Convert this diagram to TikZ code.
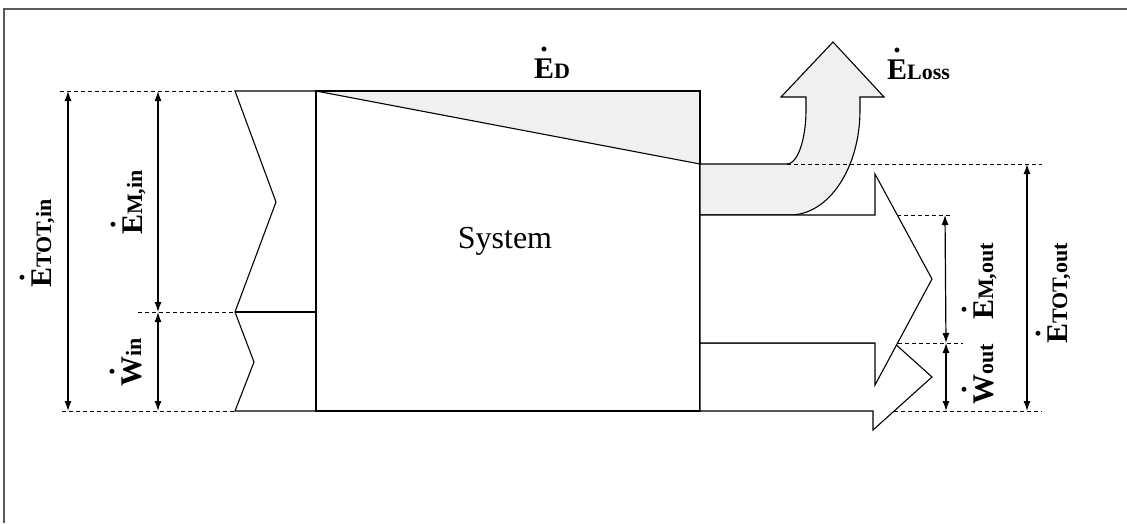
\documentclass[tikz,border=0pt]{standalone}
\usepackage{fontspec}
\setmainfont{Liberation Serif}
\usetikzlibrary{arrows.meta}
\definecolor{lossgray}{RGB}{240,240,240}
\definecolor{framegray}{RGB}{90,90,90}
\newcommand{\Dt}[1]{\ooalign{#1\cr\hidewidth\raisebox{27pt}{.}\hidewidth\cr}}
\newcommand{\Qty}[2]{{\bfseries\fontsize{30}{35}\selectfont\Dt{#1}\fontsize{22}{26}\selectfont #2}}
\begin{document}
\begin{tikzpicture}[x=1pt,y=-1pt,
  outline/.style={draw=black, line width=1.1pt, line join=miter},
  guide/.style={draw=black, line width=0.9pt, dash pattern=on 4pt off 3pt},
  dim/.style={line width=1.2pt, {Latex[length=10pt,width=7pt]}-{Latex[length=10pt,width=7pt]}},
  qty/.style={inner sep=0pt},
  vqty/.style={qty, rotate=90, anchor=base west}]
\useasboundingbox (0,0) rectangle (1127,523);
\draw[framegray, line width=1.5pt] (1127,9) -- (4,9) -- (4,523);

% key points
\coordinate (A) at (316,91);
\coordinate (B) at (700,91);
\coordinate (C) at (700,411);
\coordinate (D) at (316,411);
\coordinate (Mi) at (316,312);
\coordinate (Ed) at (700,164);
\coordinate (Ms) at (700,215);
\coordinate (Ws) at (700,343);

% system box and destroyed exergy wedge
\filldraw[outline, fill=lossgray] (A) -- (B) -- (Ed) -- cycle;
\draw[outline] (A) rectangle (C);
\node (sys) at (505,241) {\fontsize{32}{38}\selectfont System};

% input streams
\draw[outline] (D) -- (235,411) -- (254,362) -- (235,312) -- (276,202) -- (235,91) -- (A);
\draw[outline] (235,312) -- (Mi);

% loss arrow
\filldraw[outline, fill=lossgray] (Ed) -- (787,164) .. controls (797.5,164) and (806,139.8) .. (806,110)
  -- (806,97) -- (781,97) -- (833,42) -- (884,97) -- (860,97) -- (860,110)
  .. controls (860,168) and (828.7,215) .. (790,215) -- (Ms) -- cycle;

% output streams
\filldraw[outline, fill=white] (Ws) -- (873,343) -- (873,324) -- (932,377) -- (873,430) -- (873,411) -- (C) -- cycle;
\filldraw[outline, fill=white] (Ms) -- (875,215) -- (875,174) -- (932,279) -- (875,385) -- (875,343) -- (Ws) -- cycle;

% guide lines left
\coordinate (gl1) at (60,91);   \coordinate (gl1e) at (235,91);
\coordinate (gl2) at (138,312); \coordinate (gl2e) at (235,312);
\coordinate (gl3) at (62,411);  \coordinate (gl3e) at (235,411);
\draw[guide] (gl1) -- (gl1e);
\draw[guide] (gl2) -- (gl2e);
\draw[guide] (gl3) -- (gl3e);

% guide lines right
\coordinate (gr1) at (787,164); \coordinate (gr1e) at (1042,164);
\coordinate (gr2) at (897,215); \coordinate (gr2e) at (950,215);
\coordinate (gr3) at (898,343); \coordinate (gr3e) at (963,343);
\coordinate (gr4) at (894,411); \coordinate (gr4e) at (1042,411);
\draw[guide] (gr1) -- (gr1e);
\draw[guide] (gr2) -- (gr2e);
\draw[guide] (gr3) -- (gr3e);
\draw[guide] (gr4) -- (gr4e);

% dimension arrows
\coordinate (d1a) at (68,91);   \coordinate (d1b) at (68,411);
\coordinate (d2a) at (158,91);  \coordinate (d2b) at (158,312);
\coordinate (d3b) at (158,411);
\coordinate (d4a) at (945,215); \coordinate (d4b) at (946,343);
\coordinate (d5b) at (946,411);
\coordinate (d6a) at (1027,164);\coordinate (d6b) at (1027,411);
\draw[dim] (d1a) -- (d1b);
\draw[dim] (d2a) -- (d2b);
\draw[dim] (d2b) -- (d3b);
\draw[dim] (d4a) -- (d4b);
\draw[dim] (d4b) -- (d5b);
\draw[dim] (d6a) -- (d6b);

% labels
\node[qty, anchor=base] (ed) at (552,78) {\Qty{E}{D}};
\node[qty, anchor=base west] (eloss) at (887,79) {\Qty{E}{Loss}};
\node[vqty] (etotin) at (51,288) {\Qty{E}{TOT,in}};
\node[vqty] (emin) at (142,235) {\Qty{E}{M,in}};
\node[vqty] (win) at (141,387) {\Qty{W}{in}};
\node[vqty] (emout) at (993,320) {\Qty{E}{M,out}};
\node[vqty] (wout) at (993,405) {\Qty{W}{out}};
\node[vqty] (etotout) at (1067,344) {\Qty{E}{TOT,out}};
\end{tikzpicture}
\end{document}
